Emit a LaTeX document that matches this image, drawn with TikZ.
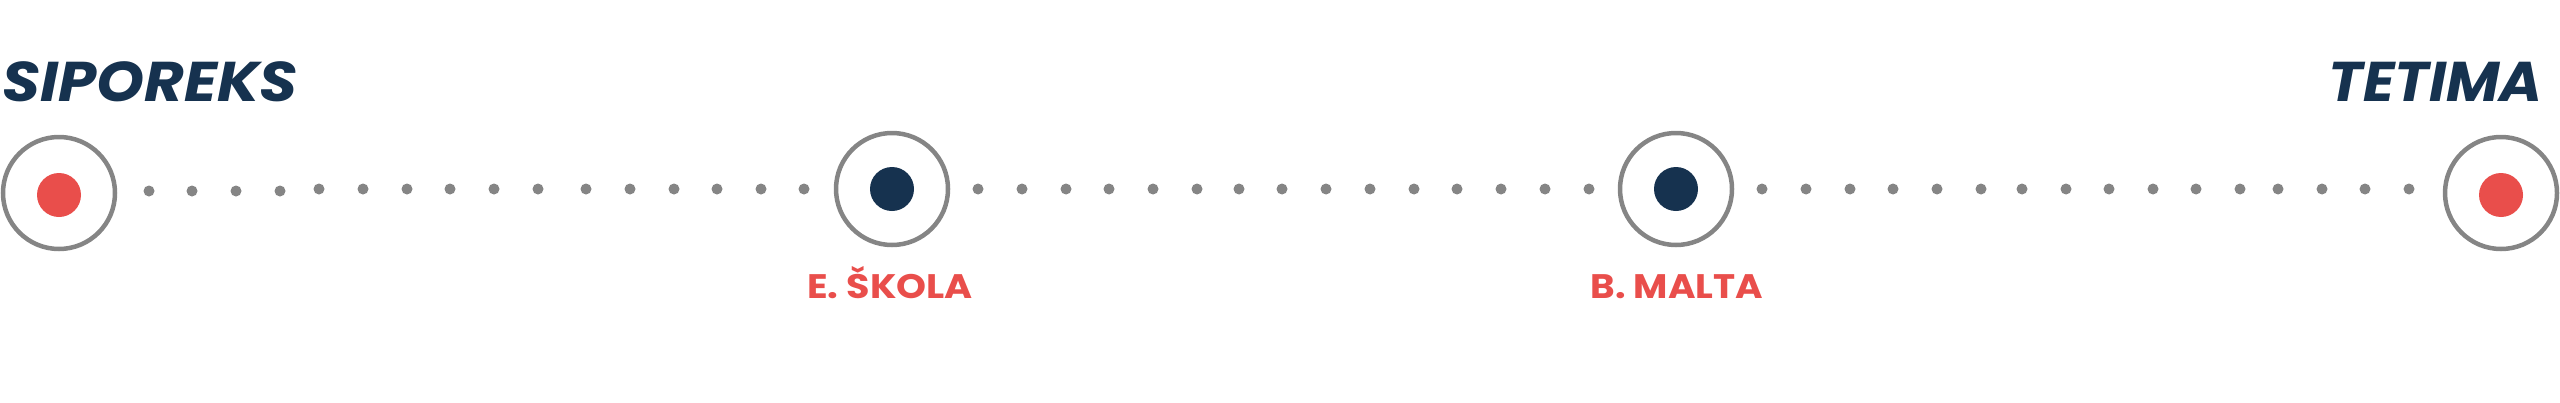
\documentclass[tikz,border=0pt]{standalone}
\usepackage{fontspec}
\newfontfamily\popfont{Poppins}
\definecolor{navy}{HTML}{16324F}
\definecolor{redc}{HTML}{E94E4B}
\definecolor{greyc}{HTML}{858585}
\tikzset{
  ring/.style={circle, draw=greyc, line width=4.5pt, fill=white, minimum size=112pt, inner sep=0pt},
  core/.style={circle, fill=#1, minimum size=44pt, inner sep=0pt},
  pt/.style={circle, fill=greyc, minimum size=11pt, inner sep=0pt},
  title/.style={text=navy, font=\popfont\bfseries\itshape\fontsize{56}{60}\selectfont, inner sep=0pt},
  lbl/.style={text=redc, font=\popfont\bfseries\fontsize{34}{38}\selectfont, inner sep=0pt, anchor=base}
}
\begin{document}
\begin{tikzpicture}[x=1pt,y=-1pt]
\useasboundingbox (0,0) rectangle (2560,402);
% stations
\node[ring] (r1) at (59,193) {};
\node[core=redc] (c1) at (59,195) {};
\node[ring] (r2) at (892,189) {};
\node[core=navy] (c2) at (892,189) {};
\node[ring] (r3) at (1676,189) {};
\node[core=navy] (c3) at (1676,189) {};
\node[ring] (r4) at (2501,193) {};
\node[core=redc] (c4) at (2501,195) {};
% dotted route
\foreach \x [count=\i] in {149,192,236,280}
  \node[pt] (a\i) at (\x,191) {};
\foreach \x [count=\i] in {319,363,407,450,494,538,586,630,674,717,761,804}
  \node[pt] (b\i) at (\x,189) {};
\foreach \x [count=\i] in {978,1022,1066,1109,1153,1197,1239,1282,1326,1370,1414,1457,1501,1545,1589}
  \node[pt] (m\i) at (\x,189) {};
\foreach \x [count=\i] in {1762,1806,1850,1893,1937,1981,2022,2066,2109,2153,2196,2240,2278,2322,2365,2409}
  \node[pt] (e\i) at (\x,189) {};
% titles
\node[title, anchor=base west] (t1) at (2,101) {\scalebox{1.09}[1]{SIPOREKS}};
\node[title, anchor=base east] (t2) at (2543,101) {\scalebox{1.04}[1]{TETIMA}};
% labels
\node[lbl] (l2) at (890,298) {\scalebox{1.12}[1]{E. ŠKOLA}};
\node[lbl] (l3) at (1677,298) {\scalebox{1.1}[1]{B. MALTA}};
\end{tikzpicture}
\end{document}
